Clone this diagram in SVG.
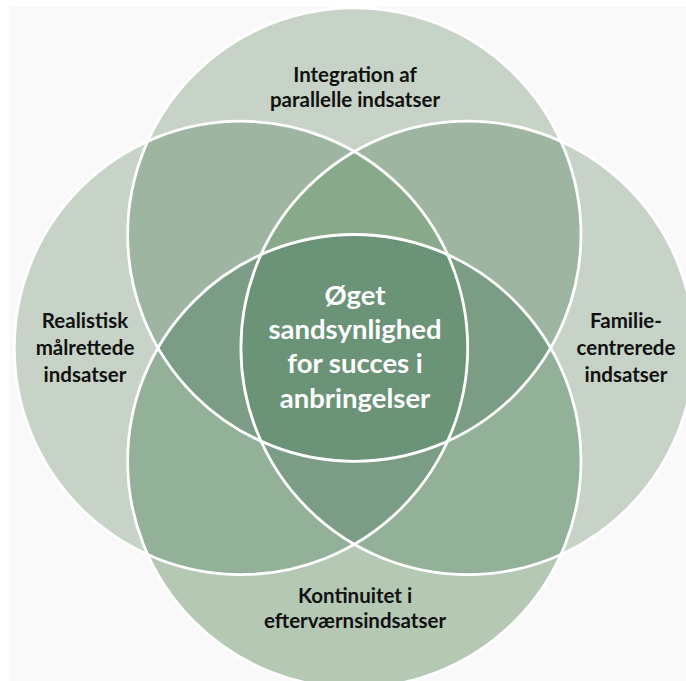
<svg xmlns="http://www.w3.org/2000/svg" width="686" height="681" viewBox="0 0 686 681">
  <style>
    .lbl { font-family: Lato, "Liberation Sans", sans-serif; font-weight: bold; font-size: 20.5px; fill: #111111; text-anchor: middle; }
    .ctr { font-family: Lato, "Liberation Sans", sans-serif; font-weight: bold; font-size: 27.5px; fill: #ffffff; text-anchor: middle; }
    .ring { fill: none; stroke: #ffffff; stroke-width: 2.8; }
  </style>
  <defs>
    <circle id="cirT" cx="354.3" cy="234.6" r="226.7"/>
    <circle id="cirB" cx="354.3" cy="461.2" r="226.7"/>
    <circle id="cirL" cx="241" cy="347.9" r="226.7"/>
    <circle id="cirR" cx="467.6" cy="347.9" r="226.7"/>
    <clipPath id="cT"><use href="#cirT"/></clipPath>
    <clipPath id="cB"><use href="#cirB"/></clipPath>
    <clipPath id="cL"><use href="#cirL"/></clipPath>
    <clipPath id="cR"><use href="#cirR"/></clipPath>
  </defs>
  <rect x="0" y="0" width="686" height="681" fill="#ffffff"/>
  <rect x="9" y="7" width="677" height="674" fill="#f9f9f9"/>
  <g id="fills">
    <use href="#cirT" fill="#c6d3c6"/>
    <use href="#cirL" fill="#c6d3c6"/>
    <use href="#cirR" fill="#c6d3c6"/>
    <use href="#cirB" fill="#b5c8b4"/>
    <g clip-path="url(#cT)"><use href="#cirL" fill="#9db5a1"/><use href="#cirR" fill="#9db5a1"/></g>
    <g clip-path="url(#cB)"><use href="#cirL" fill="#93b098"/><use href="#cirR" fill="#93b098"/><use href="#cirT" fill="#7b9d86"/></g>
    <g clip-path="url(#cL)"><use href="#cirR" fill="#88a98a"/></g>
    <g clip-path="url(#cT)"><g clip-path="url(#cL)"><use href="#cirR" fill="#88a98a"/></g></g>
    <g clip-path="url(#cB)"><g clip-path="url(#cL)"><use href="#cirR" fill="#7b9d86"/></g></g>
    <g clip-path="url(#cB)"><g clip-path="url(#cT)"><use href="#cirL" fill="#7b9d86"/><use href="#cirR" fill="#7b9d86"/></g></g>
    <g clip-path="url(#cB)"><g clip-path="url(#cT)"><g clip-path="url(#cL)"><use href="#cirR" fill="#6b9377"/></g></g></g>
  </g>
  <g id="node-top">
    <use href="#cirT" class="ring"/>
    <text class="lbl" x="355" y="82">Integration af</text>
    <text class="lbl" x="355" y="107">parallelle indsatser</text>
  </g>
  <g id="node-left">
    <use href="#cirL" class="ring"/>
    <text class="lbl" x="85" y="328">Realistisk</text>
    <text class="lbl" x="85" y="355">målrettede</text>
    <text class="lbl" x="85" y="382">indsatser</text>
  </g>
  <g id="node-right">
    <use href="#cirR" class="ring"/>
    <text class="lbl" x="626" y="328">Familie-</text>
    <text class="lbl" x="626" y="355">centrerede</text>
    <text class="lbl" x="626" y="382">indsatser</text>
  </g>
  <g id="node-bottom">
    <use href="#cirB" class="ring"/>
    <text class="lbl" x="355" y="603">Kontinuitet i</text>
    <text class="lbl" x="355" y="628">efterværnsindsatser</text>
  </g>
  <g id="node-center">
    <text class="ctr" x="355" y="305">Øget</text>
    <text class="ctr" x="355" y="339">sandsynlighed</text>
    <text class="ctr" x="355" y="373">for succes i</text>
    <text class="ctr" x="355" y="408">anbringelser</text>
  </g>
</svg>
